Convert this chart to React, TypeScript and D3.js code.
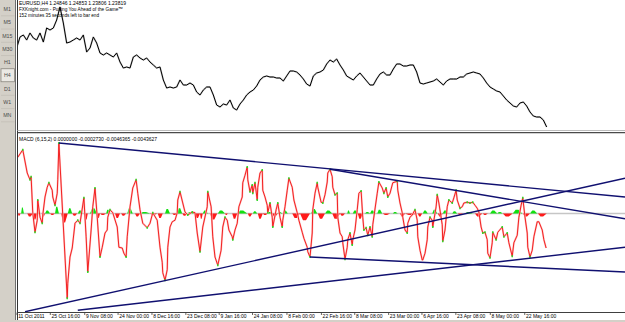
import React from "react";
import * as d3 from "d3";

const FONT = "'Liberation Sans', Arial, sans-serif";

// ---- header texts ----
const headerLines = [
  "EURUSD,H4  1.24846 1.24853 1.23806 1.23819",
  "FXKnight.com - Putting You Ahead of the Game\u2122",
  "152 minutes 35 seconds left to bar end",
];
const headerWidths = [107, 104, 80];
const macdLabel = "MACD (6,15,2) 0.0000000 -0.0002730 -0.0046365 -0.0043627";

const periodButtons = ["M1", "M5", "M15", "M30", "H1", "H4", "D1", "W1", "MN"];
const activePeriod = "H4";

// ---- price closes, one sample every 6 H4 bars ----
const PRICE_STEP = 6;
const closes = [
  1.3646, 1.3822, 1.3854, 1.3774, 1.3886, 1.3806, 1.3774, 1.3886, 1.3742, 1.3966,
  1.3934, 1.3966, 1.4094, 1.4302, 1.4046, 1.3726, 1.3742, 1.3774, 1.3806, 1.3774,
  1.3854, 1.3582, 1.3646, 1.3822, 1.3726, 1.3566, 1.3534, 1.3566, 1.3534, 1.3502,
  1.3566, 1.3422, 1.3326, 1.3342, 1.3326, 1.3502, 1.3534, 1.3486, 1.3454, 1.3486,
  1.3422, 1.3374, 1.3326, 1.3342, 1.3134, 1.3006, 1.3022, 1.3006, 1.3022, 1.3134,
  1.3054, 1.3054, 1.3086, 1.3054, 1.2942, 1.2894, 1.2974, 1.3022, 1.3022, 1.2894,
  1.2734, 1.2702, 1.2750, 1.2734, 1.2814, 1.2686, 1.2654, 1.2750, 1.2814, 1.2894,
  1.2942, 1.2974, 1.3038, 1.3134, 1.3182, 1.3198, 1.3182, 1.3182, 1.3166, 1.3166,
  1.3118, 1.3198, 1.3278, 1.3278, 1.3262, 1.3214, 1.3150, 1.3070, 1.3038, 1.3198,
  1.3246, 1.3262, 1.3294, 1.3390, 1.3454, 1.3422, 1.3470, 1.3374, 1.3294, 1.3198,
  1.3166, 1.3134, 1.3198, 1.3246, 1.3182, 1.3118, 1.3054, 1.3054, 1.3150, 1.3230,
  1.3262, 1.3214, 1.3214, 1.3310, 1.3390, 1.3390, 1.3358, 1.3358, 1.3374, 1.3374,
  1.3262, 1.3086, 1.3070, 1.3086, 1.3102, 1.3118, 1.3150, 1.3102, 1.3054, 1.3118,
  1.3150, 1.3150, 1.3150, 1.3182, 1.3182, 1.3230, 1.3246, 1.3262, 1.3246, 1.3230,
  1.3166, 1.3086, 1.3022, 1.2990, 1.2958, 1.2942, 1.2878, 1.2814, 1.2766, 1.2718,
  1.2702, 1.2766, 1.2782, 1.2718, 1.2622, 1.2558, 1.2542, 1.2542, 1.2494, 1.2382,
];

// ---- MACD main line: bar index and value (pips, 1 pip = 0.0001) ----
const macdBars = [
  2, 11, 19, 24, 26, 29, 33, 37, 38, 42, 46, 47, 51, 55, 58, 64, 65, 69, 73, 74, 76,
  91, 92, 96, 100, 105, 110, 114, 121, 125, 128, 134, 137, 141, 145, 150, 154, 159, 163, 164, 168,
  173, 181, 184, 190, 193, 197, 199, 204, 209, 215, 218, 222, 227, 235, 240, 245, 253, 258, 262, 263,
  267, 271, 272, 276, 280, 285, 289, 290, 294, 299, 303, 308, 316, 321, 325, 330,
  335, 343, 344, 350, 353, 357, 362, 368, 371, 375, 379, 382, 388, 389, 393, 397, 400, 406, 407, 411,
  415, 416, 420, 424, 425, 429, 433, 434, 438, 442, 443, 447, 451, 452, 456, 460, 461, 467, 470, 474,
  478, 479, 483, 487, 490, 496, 499, 505, 508, 514, 517, 523, 524, 528, 532, 533, 537, 541, 542, 548,
  551, 555, 559, 560, 564, 568, 569, 573, 577, 578, 582, 586, 587, 591, 595, 596, 600,
  604, 605, 609, 613, 616, 620, 623, 625, 629, 632, 636, 640, 641, 649, 652, 658, 661, 665, 668, 672,
  677, 685, 686, 690, 694, 695, 699, 703, 704, 708, 712, 717, 721, 722, 726, 730, 731, 735, 739, 740,
  744, 748, 749, 755, 757, 760, 766, 767, 771, 775, 778, 784, 787, 791, 793, 798, 802, 805, 811, 816,
  821, 825, 829, 832, 836, 839, 843, 847, 848, 852, 856, 857, 863, 866, 874, 877, 883, 886, 892, 895,
  901, 904, 908, 911, 915, 919, 920, 924, 928, 931, 937, 940, 946, 949, 953,
];
const macdPips = [
  75, 85, 54, 45, 49, 1, -25, -9, 18, -5, -13, -2, 22, 35, 41, 31, 22, 11, 27, 45, 94,
  -113, -93, -58, -46, -13, -9, -13, 21, -31, -78, -22, 9, 34, -5, -58, -45, -26, -22, -5, 5,
  1, -18, -45, -46, -53, -58, -31, 9, 34, 45, 27, 5, -13, -19, -13, 1, -9, -45, -65, -79,
  -89, -75, -45, -18, -11, -9, 1, 18, 29, 14, 2, -2, 2, 1, -26, -51,
  -18, 9, 29, 9, -31, -58, -69, -49, -18, -5, -9, -22, -31, -35, -22, -13, 9, 22, 41, 51,
  62, 45, 29, 38, 27, 41, 18, 35, 54, 58, 31, 22, 11, 1, 14, -5, -18, 5, 14, -5,
  -18, -9, 9, 31, 47, 35, 18, 1, -9, -25, -33, -45, -51, -58, -26, 5, 27, 41, 35, 15,
  14, 25, 42, 54, 59, 49, 35, 25, 27, -5, -26, -31, -39, -61, -45, -35, -26,
  -42, -35, -22, 5, 27, 30, -5, -22, -19, -29, -18, -31, -15, 27, 42, 34, 27, 34, 22, 27,
  41, 43, 31, 14, 1, -5, -22, -26, -13, -5, -2, 5, -9, -31, -49, -62, -62, -53, -35, -18,
  -5, -9, -18, 9, 25, 14, -15, -37, -22, 9, 18, 14, 21, 31, 18, 7, 9, 14, 15, 14,
  15, 11, 7, 2, -18, -26, -25, -35, -53, -59, -39, -25, -35, -25, -18, -31, -26, -39, -57, -39,
  -29, -5, 11, 21, -5, -26, -45, -58, -49, -31, -11, -11, -22, -35, -46,
];

// ---- OsMA histogram humps: first bar, last bar, peak value (pips) ----
const histStart = [
  2, 8, 19, 29, 38, 46, 51, 60, 69, 80, 92, 100, 110, 123, 132, 145, 150, 161, 177, 188,
  199, 213, 222, 240, 254, 267, 280, 289, 298, 307, 321, 330, 335, 348, 362, 375, 388, 397, 416, 425,
  434, 443, 452, 460, 470, 479, 496, 510, 530, 542, 555, 568, 582, 595, 605, 614, 627, 636, 649, 659,
  677, 690, 699, 722, 731, 748, 758, 767, 784, 794, 807, 825, 839, 852, 865, 875, 893, 911, 924, 938,
];
const histEnd = [
  7, 13, 29, 37, 42, 51, 60, 69, 76, 92, 100, 109, 119, 128, 145, 150, 161, 168, 186, 197,
  209, 222, 240, 253, 263, 276, 289, 298, 307, 321, 330, 335, 344, 361, 375, 380, 397, 415, 424, 433,
  443, 452, 460, 470, 478, 488, 510, 528, 541, 555, 568, 582, 591, 600, 614, 623, 636, 645, 658, 672,
  686, 699, 721, 730, 740, 757, 767, 776, 793, 803, 821, 838, 848, 865, 875, 893, 910, 924, 937, 954,
];
const histPips = [
  -3, 8, -4, -8, 5, -4, 4, -2, 9, -12, 7, -3, 4, -8, 7, -6, -2, 5, -6, -3,
  7, -4, 2, -2, -6, 6, -2, 7, -3, 2, -6, -7, 4, -8, 4, -2, -7, 4, -4, 3,
  -7, -2, 2, -4, 2, 4, -6, -9, 6, -7, 4, -7, -3, 4, 4, -7, 2, 4, 5, -2,
  2, -4, -2, -4, 4, 5, -4, 4, 3, -2, 2, -4, -2, 4, 2, -4, 5, -4, 4, -4,
];

// ---- trendlines on the MACD window: start/end (bar, pips) ----
const trendStartBar = [76, 564, 15, 110, 528];
const trendStartPips = [94, 59, -131, -129, -58];
const trendEndBar = [1095, 1095, 1095, 1095, 1095];
const trendEndPips = [22, -7, 47, -45, -78];

// ---- time axis ----
const tickBars = [0, 60, 122, 182, 243, 304, 364, 424, 486, 548, 608, 669, 729, 790, 852, 914];
const tickLabels = [
  "11 Oct 2011", "25 Oct 16:00", "9 Nov 08:00", "24 Nov 00:00", "8 Dec 16:00",
  "23 Dec 08:00", "9 Jan 16:00", "24 Jan 08:00", "8 Feb 00:00", "22 Feb 16:00",
  "8 Mar 08:00", "23 Mar 00:00", "6 Apr 16:00", "23 Apr 08:00", "8 May 00:00", "22 May 16:00",
];

export default function App() {
  const W = 625;
  const H = 322;
  const left = 17.5;
  const macdTop = 133.5;
  const axisY = 312.5;

  const xBar = d3.scaleLinear().domain([0, 1095]).range([16.67, 625]);
  const yPrice = d3.scaleLinear().domain([1.2382, 1.4302]).range([127, 7]);
  const yMacd = d3.scaleLinear().domain([-131, 94]).range([311.75, 143]);

  const pricePath =
    d3
      .line<number>()
      .x((_, i) => xBar(i * PRICE_STEP))
      .y((d) => yPrice(d))(closes) || "";

  const n = Math.min(macdBars.length, macdPips.length);
  const macdPts: [number, number][] = [];
  for (let i = 0; i < n; i++) macdPts.push([macdBars[i], macdPips[i]]);
  const macdPath =
    d3
      .line<[number, number]>()
      .x((d) => xBar(d[0]))
      .y((d) => yMacd(d[1]))(macdPts) || "";

  const extremes = macdPts.filter((p, i) => {
    if (i === 0 || i === n - 1) return false;
    const a = macdPts[i - 1][1];
    const b = macdPts[i + 1][1];
    return (p[1] > a && p[1] > b) || (p[1] < a && p[1] < b);
  });

  const zeroY = yMacd(0);

  const humpPath = (i: number) => {
    const s = histStart[i];
    const e = histEnd[i];
    const v = histPips[i];
    const pts: [number, number][] = [
      [s, 0],
      [s + (e - s) * 0.3, v],
      [s + (e - s) * 0.6, v],
      [e, 0],
    ];
    return (
      d3
        .line<[number, number]>()
        .x((d) => xBar(d[0]))
        .y((d) => yMacd(d[1]))(pts) + "Z"
    );
  };

  return (
    <svg
      width={W}
      height={H}
      viewBox={`0 0 ${W} ${H}`}
      style={{ position: "absolute", left: 0, top: 0, display: "block" }}
    >
      <defs>
        <clipPath id="priceClip">
          <rect x={left + 0.5} y={0} width={W - left} height={130} />
        </clipPath>
        <clipPath id="macdClip">
          <rect x={left + 0.5} y={macdTop + 0.5} width={W - left} height={axisY - macdTop - 1} />
        </clipPath>
      </defs>

      <rect x={0} y={0} width={W} height={H} fill="#ffffff" />

      {/* left period toolbar */}
      <rect x={0} y={0} width={15.5} height={H} fill="#d4d0c8" />
      {periodButtons.map((p, i) => {
        const y0 = 3 + i * 13.25;
        const active = p === activePeriod;
        return (
          <g key={p}>
            {active ? (
              <rect x={1} y={y0 - 0.5} width={13.5} height={13} fill="#ebe9e4" stroke="#8a877f" strokeWidth={0.8} />
            ) : (
              <line x1={1} x2={14.5} y1={y0 + 12.8} y2={y0 + 12.8} stroke="#bdb9b0" strokeWidth={0.6} />
            )}
            <text
              x={7.3}
              y={y0 + 8.2}
              textAnchor="middle"
              fontFamily={FONT}
              fontSize={5.3}
              fill="#4a4a4a"
            >
              {p}
            </text>
          </g>
        );
      })}

      {/* window borders */}
      <line x1={15.5} x2={15.5} y1={0} y2={320} stroke="#6e6e6e" strokeWidth={1} />
      <line x1={16.5} x2={16.5} y1={0} y2={320} stroke="#ffffff" strokeWidth={1} />
      <line x1={17.5} x2={17.5} y1={0} y2={320} stroke="#333333" strokeWidth={1} />

      {/* price window */}
      <g clipPath="url(#priceClip)">
        <path d={pricePath} fill="none" stroke="#9a9a9a" strokeWidth={1.8} strokeLinejoin="round" opacity={0.5} />
        <path d={pricePath} fill="none" stroke="#000000" strokeWidth={1} strokeLinejoin="round" />
      </g>
      {headerLines.map((t, i) => (
        <text
          key={i}
          x={19}
          y={5.3 + i * 5.9}
          fontFamily={FONT}
          fontSize={5.4}
          fill="#000000"
          textLength={headerWidths[i]}
          lengthAdjust="spacingAndGlyphs"
        >
          {t}
        </text>
      ))}

      {/* separator between windows */}
      <line x1={left} x2={W} y1={130.5} y2={130.5} stroke="#bdbdbd" strokeWidth={1} />
      <line x1={left} x2={W} y1={132.6} y2={132.6} stroke="#4a4a4a" strokeWidth={1.3} />

      {/* MACD window */}
      <g clipPath="url(#macdClip)">
        <line x1={left} x2={W} y1={zeroY} y2={zeroY} stroke="#c6c6c6" strokeWidth={1.6} />
        {histStart.map((_, i) => (
          <path key={i} d={humpPath(i)} fill={histPips[i] > 0 ? "#10e010" : "#ff1a1a"} />
        ))}
        <path d={macdPath} fill="none" stroke="#ffc0c0" strokeWidth={1.9} strokeLinejoin="round" />
        <path d={macdPath} fill="none" stroke="#f01010" strokeWidth={0.9} strokeLinejoin="round" />
        {extremes.map((p, i) => (
          <rect
            key={i}
            x={xBar(p[0]) - 0.7}
            y={yMacd(p[1]) - 1}
            width={1.4}
            height={2}
            fill="#22e022"
          />
        ))}
        {trendStartBar.map((b, i) => (
          <line
            key={i}
            x1={xBar(b)}
            y1={yMacd(trendStartPips[i])}
            x2={xBar(trendEndBar[i])}
            y2={yMacd(trendEndPips[i])}
            stroke="#101070"
            strokeWidth={1.4}
          />
        ))}
      </g>
      <text
        x={19}
        y={141}
        fontFamily={FONT}
        fontSize={5.4}
        fill="#000000"
        textLength={138}
        lengthAdjust="spacingAndGlyphs"
      >
        {macdLabel}
      </text>

      {/* time axis */}
      <line x1={left} x2={W} y1={axisY} y2={axisY} stroke="#404040" strokeWidth={1} />
      {tickBars.map((b, i) => (
        <g key={i}>
          <line x1={xBar(b) + 0.3} x2={xBar(b) + 0.3} y1={axisY} y2={axisY + 2.5} stroke="#404040" strokeWidth={0.8} />
          <text x={xBar(b) + 1.5} y={318} fontFamily={FONT} fontSize={5} fill="#000000">
            {tickLabels[i]}
          </text>
        </g>
      ))}

      <rect x={0} y={320} width={W} height={2} fill="#d4d0c8" />
    </svg>
  );
}
